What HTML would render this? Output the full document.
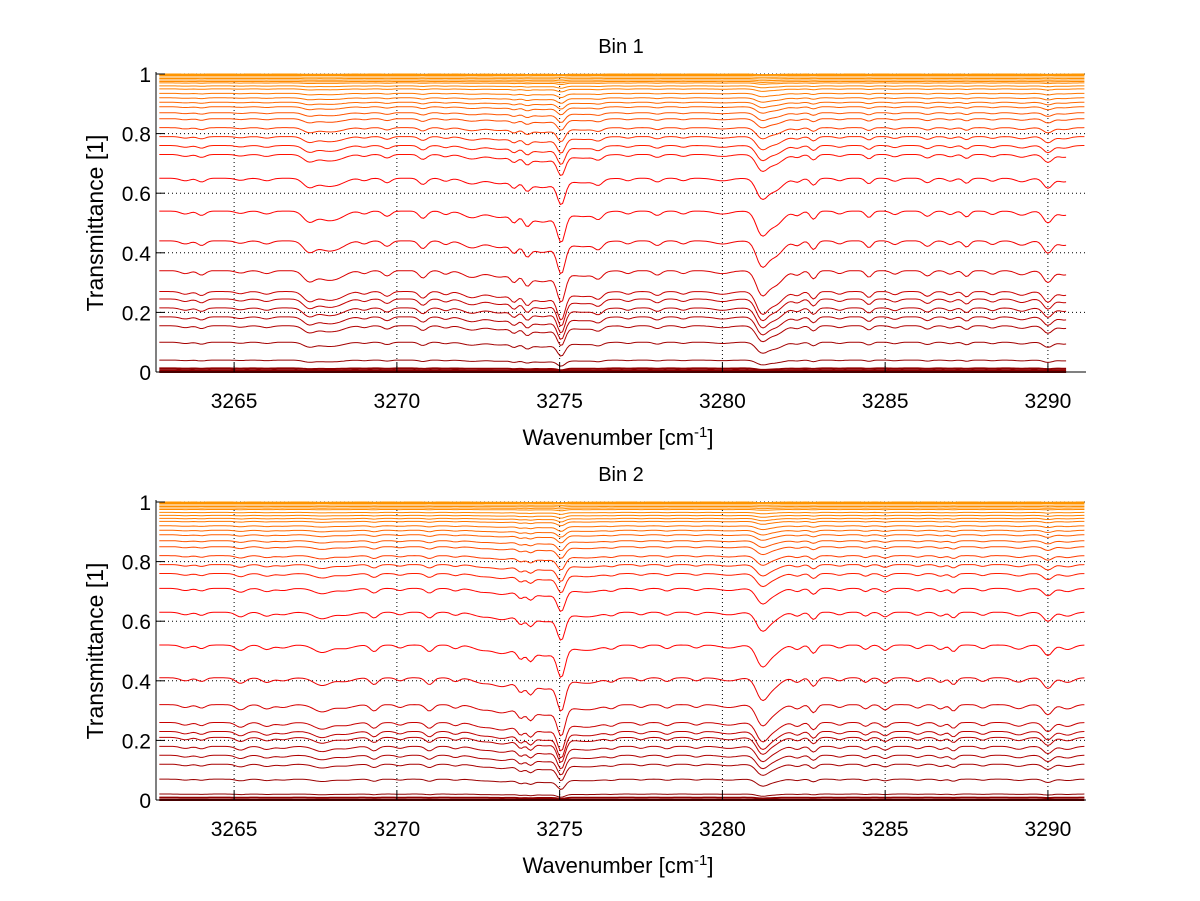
<!DOCTYPE html>
<html><head><meta charset="utf-8"><style>
body{margin:0;background:#fff;}
svg{display:block;font-family:"Liberation Sans",sans-serif;}
</style></head><body>
<svg id="fig" width="1200" height="901"></svg>
<script>
const xTicks=[3265,3270,3275,3280,3285,3290];
const yTicks=[0,0.2,0.4,0.6,0.8,1];
const levelsBin1=[1.0,0.998,0.995,0.99,0.985,0.98,0.975,0.97,0.96,0.95,0.935,0.92,0.905,0.89,0.87,0.85,0.82,0.79,0.76,0.73,0.65,0.54,0.44,0.34,0.27,0.245,0.215,0.185,0.155,0.10,0.04,0.012,0.005,0.0];
const levelsBin2=[1.0,0.998,0.995,0.99,0.985,0.98,0.975,0.965,0.955,0.945,0.935,0.92,0.905,0.89,0.87,0.85,0.82,0.79,0.76,0.71,0.63,0.52,0.41,0.32,0.26,0.23,0.21,0.18,0.15,0.12,0.07,0.02,0.008,0.0];
const dipCenters1=[3263.5,3264.0,3265.2,3266.0,3267.3,3267.8,3268.2,3269.0,3269.7,3270.8,3271.5,3272.3,3273.1,3273.6,3274.0,3274.5,3275.05,3275.8,3276.2,3277.1,3278.0,3278.8,3280.0,3281.2,3281.6,3282.3,3282.8,3283.6,3284.5,3285.3,3286.3,3287.0,3287.5,3288.3,3289.2,3290.0,3290.5];
const dipDepths1=[0.10,0.15,0.08,0.10,0.35,0.25,0.20,0.10,0.18,0.25,0.12,0.22,0.15,0.25,0.30,0.18,0.90,0.15,0.20,0.10,0.15,0.10,0.10,0.70,0.50,0.15,0.28,0.10,0.22,0.12,0.18,0.12,0.20,0.12,0.14,0.40,0.15];
const dipWidths1=[0.15,0.12,0.15,0.15,0.18,0.25,0.25,0.12,0.12,0.12,0.12,0.25,0.25,0.1,0.1,0.3,0.12,0.35,0.12,0.12,0.12,0.12,0.25,0.17,0.25,0.12,0.1,0.12,0.1,0.12,0.12,0.12,0.1,0.12,0.18,0.14,0.18];
const dipCenters2=[3263.5,3264.0,3265.2,3266.0,3266.5,3267.7,3268.4,3269.3,3270.1,3271.0,3271.8,3272.6,3273.2,3273.8,3274.1,3274.6,3275.05,3275.9,3276.6,3277.5,3278.3,3279.2,3280.2,3281.2,3281.5,3282.3,3282.8,3283.6,3284.4,3285.0,3286.0,3286.7,3287.1,3288.0,3289.1,3290.0,3290.6];
const dipDepths2=[0.10,0.12,0.18,0.15,0.10,0.25,0.12,0.22,0.10,0.22,0.12,0.15,0.20,0.30,0.32,0.18,0.90,0.15,0.12,0.10,0.12,0.10,0.10,0.55,0.35,0.15,0.28,0.10,0.15,0.18,0.12,0.15,0.22,0.12,0.14,0.35,0.15];
const dipWidths2=dipWidths1;

const NS="http://www.w3.org/2000/svg";
const svg=document.getElementById('fig');
const X0=3262.6,X1=3291.17,L=156,R=1086;
function el(t,a,p){const e=document.createElementNS(NS,t);for(const k in a)e.setAttribute(k,a[k]);(p||svg).appendChild(e);return e;}
function absorb(x,cs,ds,ws){let a=0;for(let i=0;i<cs.length;i++){const d=(x-cs[i])/ws[i];a+=ds[i]*Math.exp(-0.5*d*d);}
  a+=0.2*Math.exp(-0.5*Math.pow((x-3274.3)/0.8,2));
  return a;}
function color(v){
  if(v<0.5){return `rgb(${Math.round(140+115*v/0.5)},0,0)`;}
  const g=Math.round(Math.max(0,(v-0.7)/0.3)*150);
  return `rgb(${255},${g},0)`;}
function panel(idx,top,title,levels,cs,ds,ws,xEnd){
  const y0=top+298,sy=298;
  const sx=v=>L+(v-X0)/(X1-X0)*(R-L);
  const syf=v=>y0-v*sy;
  const g=el('g',{});
  
  
  xTicks.forEach(t=>{const l=el('line',{x1:sx(t),x2:sx(t),y1:top,y2:y0,stroke:'#000','stroke-width':1,'stroke-dasharray':'1,3'},g);});
  yTicks.forEach(t=>{const l=el('line',{x1:L,x2:R,y1:syf(t),y2:syf(t),stroke:'#000','stroke-width':1,'stroke-dasharray':'1,3'},g);});
  const sg=el('g',{},g);
  
  
  const order=levels.map((v,i)=>i).sort((a,b)=>levels[a]-levels[b]);
  order.forEach(i=>{
    const lv=levels[i];
    const end=lv<0.75?xEnd:X1;
    let d='';
    for(let x=X0+0.1;x<=end;x+=0.07){
      const v=lv-0.5*absorb(x,cs,ds,ws)*lv*Math.pow(1-lv,1.3)-(lv>=0.999?0.003*absorb(x,cs,ds,ws):0);
      d+=(d?'L':'M')+sx(x).toFixed(1)+','+syf(v).toFixed(1);
    }
    const p=el('path',{d:d,fill:'none',stroke:color(lv),'stroke-width':lv<0.02?2:1},sg);
    
    
  });
  const ax=el('line',{x1:L,x2:R,y1:y0,y2:y0,stroke:'#000'},g);
  const ay=el('line',{x1:L,x2:L,y1:top-2,y2:y0,stroke:'#000'},g);
  xTicks.forEach(t=>{
    el('line',{x1:sx(t),x2:sx(t),y1:y0,y2:y0-9,stroke:'#000'},g);
    const tx=el('text',{x:sx(t),y:y0+36,'font-size':21,'text-anchor':'middle'},g);tx.textContent=t;
    
  });
  yTicks.forEach(t=>{
    el('line',{x1:L,x2:L+9,y1:syf(t),y2:syf(t),stroke:'#000'},g);
    const tx=el('text',{x:L-5,y:syf(t)+8,'font-size':21,'text-anchor':'end'},g);tx.textContent=String(t);
    
  });
  const tt=el('text',{x:621,y:top-21,'font-size':20,'text-anchor':'middle'},g);tt.textContent=title;
  
  const xl=el('text',{x:618,y:y0+73,'font-size':22,'text-anchor':'middle'},g);
  xl.innerHTML='Wavenumber [cm<tspan dy="-8" font-size="15">-1</tspan><tspan dy="8">]</tspan>';
  
  const yl=el('text',{x:0,y:0,'font-size':23,'text-anchor':'middle',transform:`translate(103,${top+149}) rotate(-90)`},g);yl.textContent='Transmittance [1]';
  
}
panel(1,74,'Bin 1',levelsBin1,dipCenters1,dipDepths1,dipWidths1,3290.6);
panel(2,502,'Bin 2',levelsBin2,dipCenters2,dipDepths2,dipWidths2,3291.17);
</script>
</body></html>
